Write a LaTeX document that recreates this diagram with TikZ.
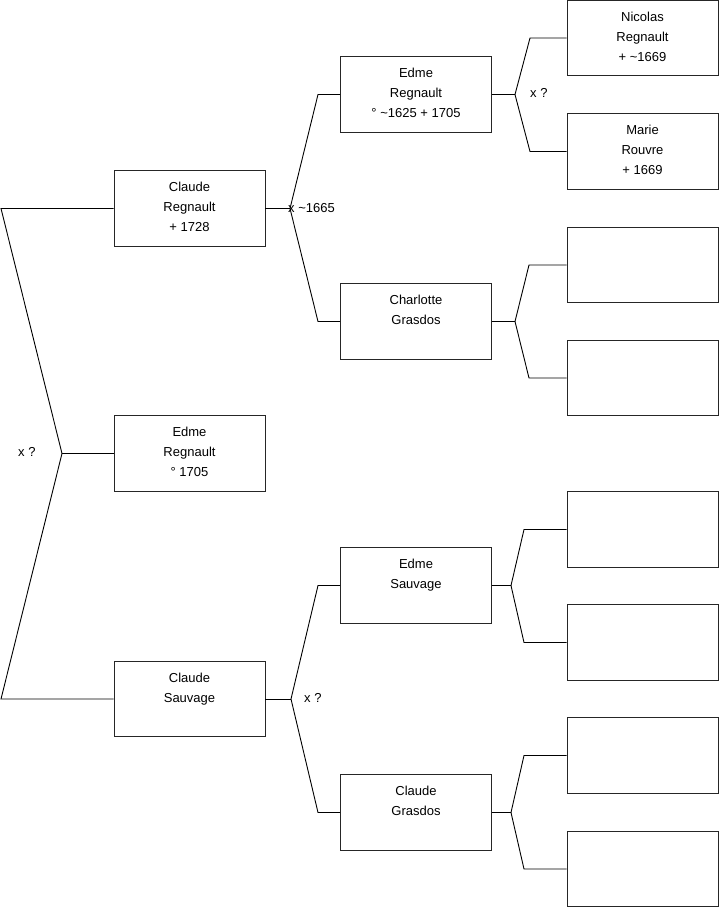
\documentclass[tikz,border=0pt]{standalone}
\usepackage{fontspec}
\setmainfont{Liberation Sans}
\begin{document}
\begin{tikzpicture}[x=1pt,y=-1pt,
 box/.style={draw=black!85, line width=0.9pt, minimum width=151pt, minimum height=75.5pt, inner sep=0pt},
 txt/.style={align=center, inner sep=0pt, anchor=north, font=\fontsize{13}{20}\selectfont},
 lbl/.style={inner sep=0pt, anchor=west, font=\fontsize{13}{15}\selectfont},
 conn/.style={line width=0.9pt}]
\useasboundingbox (0,0) rectangle (719,908);
% column 1
\node[box] (cr) at (189.5,208.5) {};
\node[box] (er2) at (189.5,453.5) {};
\node[box] (cs) at (189.5,699) {};
% column 2
\node[box] (er) at (416,94.5) {};
\node[box] (cg) at (416,321.5) {};
\node[box] (es) at (416,585.5) {};
\node[box] (cgr) at (416,812.5) {};
% column 3
\node[box] (nr) at (642.5,38) {};
\node[box] (mr) at (642.5,151.5) {};
\node[box] (e1) at (642.5,265) {};
\node[box] (e2) at (642.5,378) {};
\node[box] (e3) at (642.5,529.5) {};
\node[box] (e4) at (642.5,642.5) {};
\node[box] (e5) at (642.5,755.5) {};
\node[box] (e6) at (642.5,869) {};
% texts
\node[txt] (crt) at ([yshift=-12pt]cr.north) {Claude\\Regnault\\+ 1728};
\node[txt] (er2t) at ([yshift=-12pt]er2.north) {Edme\\Regnault\\° 1705};
\node[txt] (cst) at ([yshift=-12pt]cs.north) {Claude\\Sauvage};
\node[txt] (ert) at ([yshift=-12pt]er.north) {Edme\\Regnault\\° \textasciitilde1625 + 1705};
\node[txt] (cgt) at ([yshift=-12pt]cg.north) {Charlotte\\Grasdos};
\node[txt] (est) at ([yshift=-12pt]es.north) {Edme\\Sauvage};
\node[txt] (cgrt) at ([yshift=-12pt]cgr.north) {Claude\\Grasdos};
\node[txt] (nrt) at ([yshift=-12pt]nr.north) {Nicolas\\Regnault\\+ \textasciitilde1669};
\node[txt] (mrt) at ([yshift=-12pt]mr.north) {Marie\\Rouvre\\+ 1669};
% fork coordinates
\coordinate (rt) at (1,208.5);
\coordinate (rf) at (62,453.5);
\coordinate (rb) at (1,699);
\coordinate (fa) at (290,208.5);
\coordinate (fau) at (318,94.5);
\coordinate (fad) at (318,321.5);
\coordinate (fb) at (515,94.5);
\coordinate (fbu) at (530,38);
\coordinate (fbd) at (530,151.5);
\coordinate (fc) at (515,321.5);
\coordinate (fcu) at (529,265);
\coordinate (fcd) at (529,378);
\coordinate (fd) at (291,699);
\coordinate (fdu) at (318,585.5);
\coordinate (fdd) at (318,812.5);
\coordinate (fe) at (511,585.5);
\coordinate (feu) at (524,529.5);
\coordinate (fed) at (524,642.5);
\coordinate (ff) at (511,812.5);
\coordinate (ffu) at (524,755.5);
\coordinate (ffd) at (524,869);
% connectors
\draw[conn] (cr.west) -- (rt) -- (rf) -- (rb) -- (cs.west);
\draw[conn] (rf) -- (er2.west);
\draw[conn] (cr.east) -- (fa);
\draw[conn] (er.west) -- (fau) -- (fa) -- (fad) -- (cg.west);
\draw[conn] (er.east) -- (fb);
\draw[conn] (nr.west) -- (fbu) -- (fb) -- (fbd) -- (mr.west);
\draw[conn] (cg.east) -- (fc);
\draw[conn] (e1.west) -- (fcu) -- (fc) -- (fcd) -- (e2.west);
\draw[conn] (cs.east) -- (fd);
\draw[conn] (es.west) -- (fdu) -- (fd) -- (fdd) -- (cgr.west);
\draw[conn] (es.east) -- (fe);
\draw[conn] (e3.west) -- (feu) -- (fe) -- (fed) -- (e4.west);
\draw[conn] (cgr.east) -- (ff);
\draw[conn] (e5.west) -- (ffu) -- (ff) -- (ffd) -- (e6.west);
% labels
\node[lbl] (la) at (288,208.5) {x \textasciitilde1665};
\node[lbl] (lb) at (530,93) {x ?};
\node[lbl] (lr) at (18,452) {x ?};
\node[lbl] (ld) at (304,698) {x ?};
\end{tikzpicture}
\end{document}
